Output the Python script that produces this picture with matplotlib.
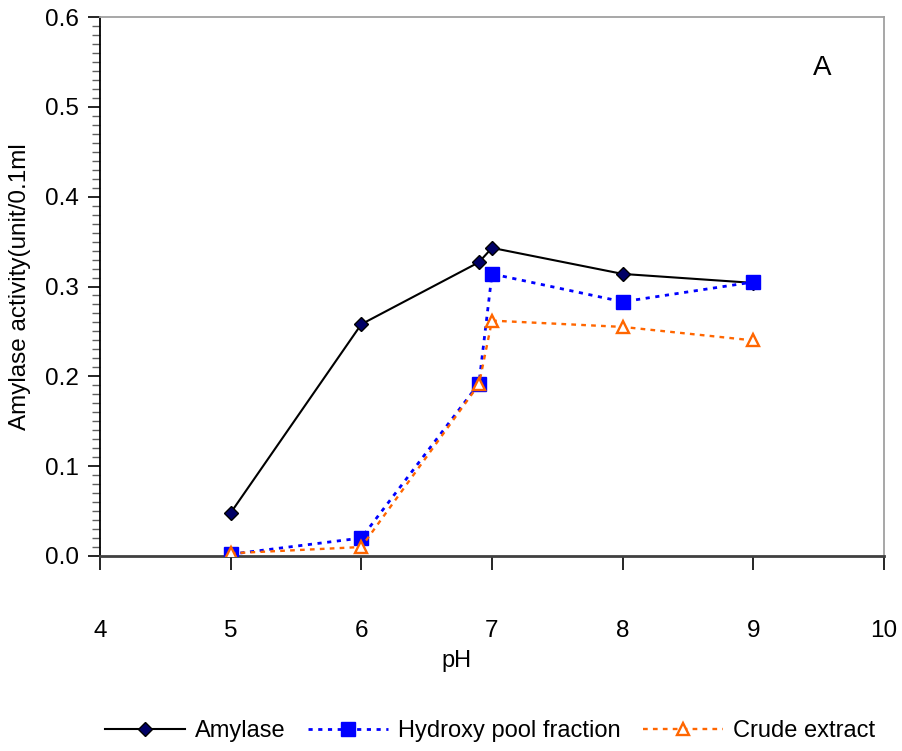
import matplotlib
matplotlib.use("Agg")
import matplotlib.pyplot as plt
from matplotlib.ticker import MultipleLocator

plt.rcParams['font.family'] = ['Liberation Sans', 'DejaVu Sans']

ph = [5, 6, 6.9, 7, 8, 9]
amylase = [0.048, 0.258, 0.327, 0.343, 0.314, 0.304]
hydroxy = [0.002, 0.020, 0.192, 0.314, 0.283, 0.305]
crude = [0.003, 0.010, 0.191, 0.262, 0.255, 0.240]

x_ticks = [4, 5, 6, 7, 8, 9, 10]
y_ticks = [0.0, 0.1, 0.2, 0.3, 0.4, 0.5, 0.6]

W, H = 903, 751
fig = plt.figure(figsize=(W/100, H/100), dpi=100)
ax = fig.add_axes([100/W, 1-556/H, 784/W, 539/H])

ax.plot(ph, amylase, color='black', lw=1.5, marker='D', markersize=7.5,
        markerfacecolor='#000066', markeredgecolor='black', label='Amylase', zorder=3)
ax.plot(ph, hydroxy, color='#0000FF', lw=2, dashes=(1.5, 2), marker='s', markersize=10,
        markerfacecolor='#0000FF', markeredgecolor='#0000FF', label='Hydroxy pool fraction', zorder=4)
ax.plot(ph, crude, color='#FF6600', lw=1.7, dashes=(2, 2.2), marker='^', markersize=9,
        markerfacecolor='white', markeredgecolor='#FF6600', markeredgewidth=1.7,
        label='Crude extract', zorder=5)

ax.set_xlim(4, 10)
ax.set_ylim(0, 0.6)
ax.set_xticks(x_ticks)
ax.set_yticks(y_ticks)
ax.set_yticklabels([f"{v:.1f}" for v in y_ticks])
ax.yaxis.set_minor_locator(MultipleLocator(0.01))

for s in ['top', 'right']:
    ax.spines[s].set_color('#a0a0a0')
    ax.spines[s].set_linewidth(1.3)
ax.spines['left'].set_color('black')
ax.spines['left'].set_linewidth(1.3)
ax.spines['bottom'].set_color('#404040')
ax.spines['bottom'].set_linewidth(2)

ax.tick_params(axis='y', which='major', direction='out', length=9, width=1.2,
               labelsize=17.5, pad=6, color='black')
ax.tick_params(axis='y', which='minor', direction='out', length=6, width=1, color='#606060')
ax.tick_params(axis='x', which='major', direction='out', length=10, width=1.2,
               labelsize=17.5, pad=36, color='black')

fig.text(457/W, 1-661/H, 'pH', fontsize=17, ha='center', va='center')
fig.text(20/W, 1-287/H, 'Amylase activity(unit/0.1ml', fontsize=17.5, rotation=90,
         ha='center', va='center')
fig.text(822/W, 1-68/H, 'A', fontsize=20, ha='center', va='center')

fig.legend(loc='center', bbox_to_anchor=(490/W, 1-731/H), ncol=3, frameon=False,
           fontsize=17, handlelength=3.4, handletextpad=0.42, columnspacing=0.95)

fig.savefig('out.png', dpi=100)
